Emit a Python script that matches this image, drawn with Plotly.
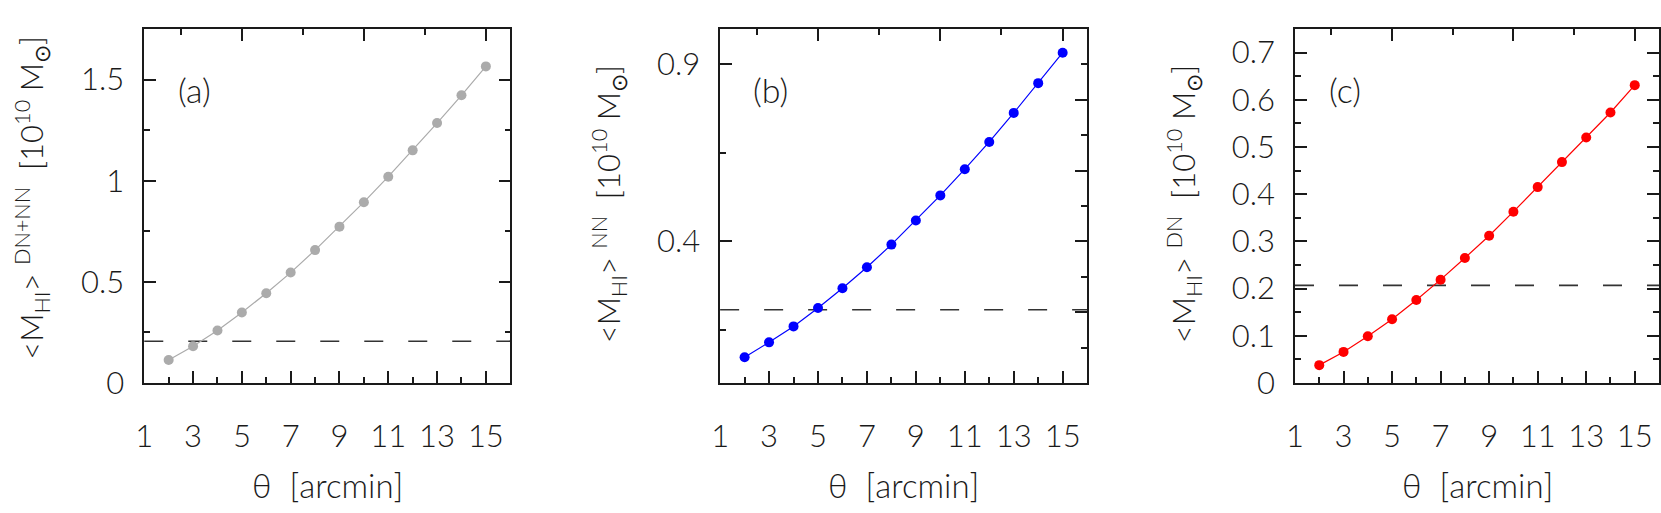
import plotly.graph_objects as go

# ---------------- data ----------------
theta = [2, 3, 4, 5, 6, 7, 8, 9, 10, 11, 12, 13, 14, 15]
m_dn_nn = [0.114, 0.182, 0.260, 0.349, 0.444, 0.546, 0.657, 0.773, 0.894, 1.020, 1.150, 1.285, 1.422, 1.565]
m_nn = [0.073, 0.115, 0.160, 0.212, 0.268, 0.327, 0.391, 0.459, 0.530, 0.604, 0.681, 0.763, 0.847, 0.933]
m_dn = [0.038, 0.066, 0.099, 0.135, 0.176, 0.219, 0.265, 0.312, 0.363, 0.415, 0.468, 0.520, 0.573, 0.631]
threshold = 0.207

x_tick_vals = [1, 3, 5, 7, 9, 11, 13, 15]
x_tick_text = ["1", "3", "5", "7", "9", "11", "13", "15"]
x_minor_vals = [2, 4, 6, 8, 10, 12, 14]
x_top_vals = [5, 10, 15]
x_top_minor = [2.5, 7.5, 12.5]
x_range = [1, 16]

panel_labels = ["(a)", "(b)", "(c)"]
y_ranges = [[0, 1.75], [0, 1.0], [0, 0.75]]
y_left_vals = [[0, 0.5, 1, 1.5], [0.4, 0.9], [0, 0.1, 0.2, 0.3, 0.4, 0.5, 0.6, 0.7]]
y_left_text = [["0", "0.5", "1", "1.5"], ["0.4", "0.9"],
               ["0", "0.1", "0.2", "0.3", "0.4", "0.5", "0.6", "0.7"]]
y_left_minor = [[0.25, 0.75, 1.25], [0.15, 0.65],
                [0.05, 0.15, 0.25, 0.35, 0.45, 0.55, 0.65]]
y_right_vals = [[0.5, 1, 1.5], [0.2, 0.4, 0.6, 0.8],
                [0.1, 0.2, 0.3, 0.4, 0.5, 0.6, 0.7]]
y_right_minor = [[0.25, 0.75, 1.25], [0.1, 0.3, 0.5, 0.7, 0.9],
                 [0.05, 0.15, 0.25, 0.35, 0.45, 0.55, 0.65]]
superscripts = ["DN+NN", "NN", "DN"]
series = [m_dn_nn, m_nn, m_dn]
colors = ["#ababab", "#0000ff", "#ff0000"]

# ---------------- layout geometry (pixels) ----------------
W, H = 1661, 513
x_doms_px = [(136, 504), (715, 1084), (1293, 1659)]
y_dom_px = (30, 397)  # top, bottom
ytitle_x_px = [23, 603, 1181]
ytitle_y_px = [205, 212, 212]
xtitle_y_px = 503

FONT = "Lato, 'DejaVu Sans', sans-serif"
INK = "#1a1a1a"
FS = 31

fig = go.Figure()
ydom = [1 - y_dom_px[1] / H, 1 - y_dom_px[0] / H]

axis_line = dict(showline=True, linecolor=INK, linewidth=1.5, showgrid=False,
                 zeroline=False, ticks="inside", tickcolor=INK, tickwidth=1.5)

for i in range(3):
    n = i + 1
    ov = i + 4
    xd = [x_doms_px[i][0] / W, x_doms_px[i][1] / W]
    xs = "" if n == 1 else str(n)

    fig.add_trace(go.Scatter(
        x=theta, y=series[i], mode="lines+markers",
        line=dict(color=colors[i], width=1.2),
        marker=dict(color=colors[i], size=10),
        xaxis="x" + xs, yaxis="y" + xs, showlegend=False, hoverinfo="skip"))
    # dummy trace for overlay (top / right) axes
    fig.add_trace(go.Scatter(x=[None], y=[None], xaxis="x%d" % ov, yaxis="y%d" % ov,
                             showlegend=False, hoverinfo="skip"))

    fig.layout["xaxis" + xs] = dict(
        domain=xd, range=x_range, anchor="y" + xs, **axis_line,
        tickmode="array", tickvals=x_tick_vals, ticktext=x_tick_text, ticklen=12,
        minor=dict(tickmode="array", tickvals=x_minor_vals, ticks="inside",
                   ticklen=6, tickcolor=INK, tickwidth=1.5),
        tickfont=dict(family=FONT, size=FS, color=INK, weight=300),
        ticklabelstandoff=25)
    fig.layout["yaxis" + xs] = dict(
        domain=ydom, range=y_ranges[i], anchor="x" + xs, **axis_line,
        tickmode="array", tickvals=y_left_vals[i], ticktext=y_left_text[i], ticklen=12,
        minor=dict(tickmode="array", tickvals=y_left_minor[i], ticks="inside",
                   ticklen=6, tickcolor=INK, tickwidth=1.5),
        tickfont=dict(family=FONT, size=FS, color=INK, weight=300),
        ticklabelstandoff=12)
    fig.layout["xaxis%d" % ov] = dict(
        overlaying="x" + xs, side="top", range=x_range, anchor="y" + xs, **axis_line,
        tickmode="array", tickvals=x_top_vals, ticklen=12, showticklabels=False,
        minor=dict(tickmode="array", tickvals=x_top_minor, ticks="inside",
                   ticklen=6, tickcolor=INK, tickwidth=1.5))
    fig.layout["yaxis%d" % ov] = dict(
        overlaying="y" + xs, side="right", range=y_ranges[i], anchor="x" + xs, **axis_line,
        tickmode="array", tickvals=y_right_vals[i], ticklen=12, showticklabels=False,
        minor=dict(tickmode="array", tickvals=y_right_minor[i], ticks="inside",
                   ticklen=6, tickcolor=INK, tickwidth=1.5))

    # threshold dashed line
    fig.add_shape(type="line", xref="x%s domain" % xs, yref="y" + xs,
                  x0=0, x1=1, y0=threshold, y1=threshold, layer="below",
                  line=dict(color="#333333", width=1.6, dash="19px,25px"))

    # panel label
    fig.add_annotation(text=panel_labels[i], xref="x%s domain" % xs, yref="y%s domain" % xs,
                       x=0.138, y=0.83, xanchor="center", yanchor="middle", showarrow=False,
                       font=dict(family=FONT, size=34, color=INK, weight=300))
    # x title
    fig.add_annotation(text="\u03b8\u00a0\u00a0[arcmin]", xref="x%s domain" % xs, yref="paper",
                       x=0.5, y=1 - xtitle_y_px / H, xanchor="center", yanchor="middle",
                       showarrow=False,
                       font=dict(family=FONT, size=33, color=INK, weight=300))
    # y title
    ytxt = ("&lt;M<sub>HI</sub>&gt;\u00a0<sup>%s</sup>\u00a0\u00a0[10<sup>10</sup>\u00a0M<sub>\u2299</sub>]"
            % superscripts[i])
    fig.add_annotation(text=ytxt, xref="paper", yref="paper", textangle=-90,
                       x=ytitle_x_px[i] / W, y=1 - ytitle_y_px[i] / H,
                       xanchor="center", yanchor="middle", showarrow=False,
                       font=dict(family=FONT, size=FS, color=INK, weight=300))

fig.update_layout(width=W, height=H, margin=dict(l=0, r=0, t=0, b=0),
                  paper_bgcolor="white", plot_bgcolor="white", showlegend=False)

fig.write_html("out.html", config={"displayModeBar": False},
               post_script="document.body.style.margin='0';document.body.style.overflow='hidden';")
